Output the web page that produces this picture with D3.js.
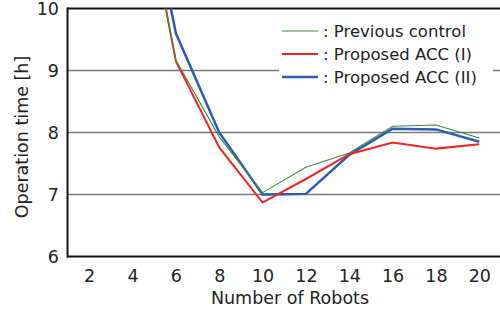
<!DOCTYPE html>
<html>
<head>
<meta charset="utf-8">
<script src="https://cdn.jsdelivr.net/npm/d3@7"></script>
<style>
  body { margin: 0; background: #fff; }
  text { font-family: "DejaVu Sans", Verdana, sans-serif; fill: #222; }
</style>
</head>
<body>
<div id="chart"></div>
<script>
const WIDTH = 500;
const HEIGHT = 313;

// number of robots
const robots = [4, 6, 8, 10, 12, 14, 16, 18, 20];
// operation time [h] per method
const previousControl = [12.8, 9.17, 7.93, 7.03, 7.44, 7.67, 8.10, 8.12, 7.91];
const proposedAcc1 = [12.8, 9.15, 7.76, 6.87, 7.25, 7.65, 7.84, 7.74, 7.81];
const proposedAcc2 = [13.1, 9.60, 8.00, 7.00, 7.01, 7.64, 8.06, 8.05, 7.85];

const xTicks = [2, 4, 6, 8, 10, 12, 14, 16, 18, 20];
const yTicks = [6, 7, 8, 9, 10];

const seriesNames = [": Previous control", ": Proposed ACC (I)", ": Proposed ACC (II)"];

let svg = d3.select("#chart")
    .append("svg")
    .attr("width", WIDTH)
    .attr("height", HEIGHT);

let x = d3.scaleLinear().domain([1, 21]).range([67.5, 501]);
let y = d3.scaleLinear().domain([6, 10]).range([256.5, 8.5]);

// clip for the lines
svg.append("clipPath")
    .attr("id", "plot-clip")
    .append("rect")
    .attr("x", 67)
    .attr("y", 8.5)
    .attr("width", WIDTH - 67)
    .attr("height", 248);

// gridlines at 7, 8, 9
svg.append("g")
    .selectAll("line")
    .data([7, 8, 9])
    .enter()
    .append("line")
    .attr("x1", 67)
    .attr("x2", WIDTH)
    .attr("y1", d => y(d))
    .attr("y2", d => y(d))
    .style("stroke", "#7a7a7a")
    .style("stroke-width", 1.5);

// top border at 10
svg.append("line")
    .attr("x1", 67)
    .attr("x2", WIDTH)
    .attr("y1", y(10))
    .attr("y2", y(10))
    .style("stroke", "#111")
    .style("stroke-width", 2);

// lines
let series = [
    { values: proposedAcc2, color: "#2a5cb4", width: 2.5 },
    { values: proposedAcc1, color: "#f42323", width: 2 },
    { values: previousControl, color: "#3c8c3c", width: 1.1 }
];

let line = d3.line()
    .x((d, i) => x(robots[i]))
    .y(d => y(d));

svg.append("g")
    .attr("clip-path", "url(#plot-clip)")
    .selectAll("path")
    .data(series)
    .enter()
    .append("path")
    .attr("d", d => line(d.values))
    .style("fill", "none")
    .style("stroke", d => d.color)
    .style("stroke-width", d => d.width);

// x axis
let xAxis = svg.append("g")
    .attr("transform", `translate(0,${y(6)})`)
    .call(d3.axisBottom(x).tickValues(xTicks).tickSize(0).tickPadding(13));
xAxis.select(".domain").remove();
xAxis.selectAll("text").style("font-size", "17.5px").attr("fill", "#222")
    .style("font-family", "'DejaVu Sans', Verdana, sans-serif");
svg.append("line")
    .attr("x1", 67)
    .attr("x2", WIDTH)
    .attr("y1", y(6))
    .attr("y2", y(6))
    .style("stroke", "#111")
    .style("stroke-width", 2);

// y axis
let yAxis = svg.append("g")
    .attr("transform", `translate(67,0)`)
    .call(d3.axisLeft(y).tickValues(yTicks).tickFormat(d3.format("d")).tickSize(0).tickPadding(8));
yAxis.select(".domain").remove();
yAxis.selectAll("text").style("font-size", "17.5px").attr("fill", "#222")
    .style("font-family", "'DejaVu Sans', Verdana, sans-serif");
svg.append("line")
    .attr("x1", 67.5)
    .attr("x2", 67.5)
    .attr("y1", y(10) - 1)
    .attr("y2", y(6) + 1)
    .style("stroke", "#111")
    .style("stroke-width", 2);

// axis titles
svg.append("text")
    .attr("x", 290)
    .attr("y", 304)
    .style("text-anchor", "middle")
    .style("font-size", "17.5px")
    .text("Number of Robots");

svg.append("text")
    .attr("transform", "translate(28,137) rotate(-90)")
    .style("text-anchor", "middle")
    .style("font-size", "17.5px")
    .text("Operation time [h]");

// legend
let legend = svg.append("g");
legend.append("rect")
    .attr("x", 279)
    .attr("y", 16)
    .attr("width", 214)
    .attr("height", 72)
    .style("fill", "#fff");

let legendRows = [
    { name: seriesNames[0], color: "#3c8c3c", width: 1.1, yy: 31 },
    { name: seriesNames[1], color: "#f42323", width: 2, yy: 54 },
    { name: seriesNames[2], color: "#2a5cb4", width: 2.5, yy: 77 }
];

legend.selectAll("line")
    .data(legendRows)
    .enter()
    .append("line")
    .attr("x1", 282)
    .attr("x2", 318)
    .attr("y1", d => d.yy)
    .attr("y2", d => d.yy)
    .style("stroke", d => d.color)
    .style("stroke-width", d => d.width);

legend.selectAll("text")
    .data(legendRows)
    .enter()
    .append("text")
    .attr("x", 323)
    .attr("y", d => d.yy + 6)
    .style("font-size", "16.5px")
    .text(d => d.name);
</script>
</body>
</html>
